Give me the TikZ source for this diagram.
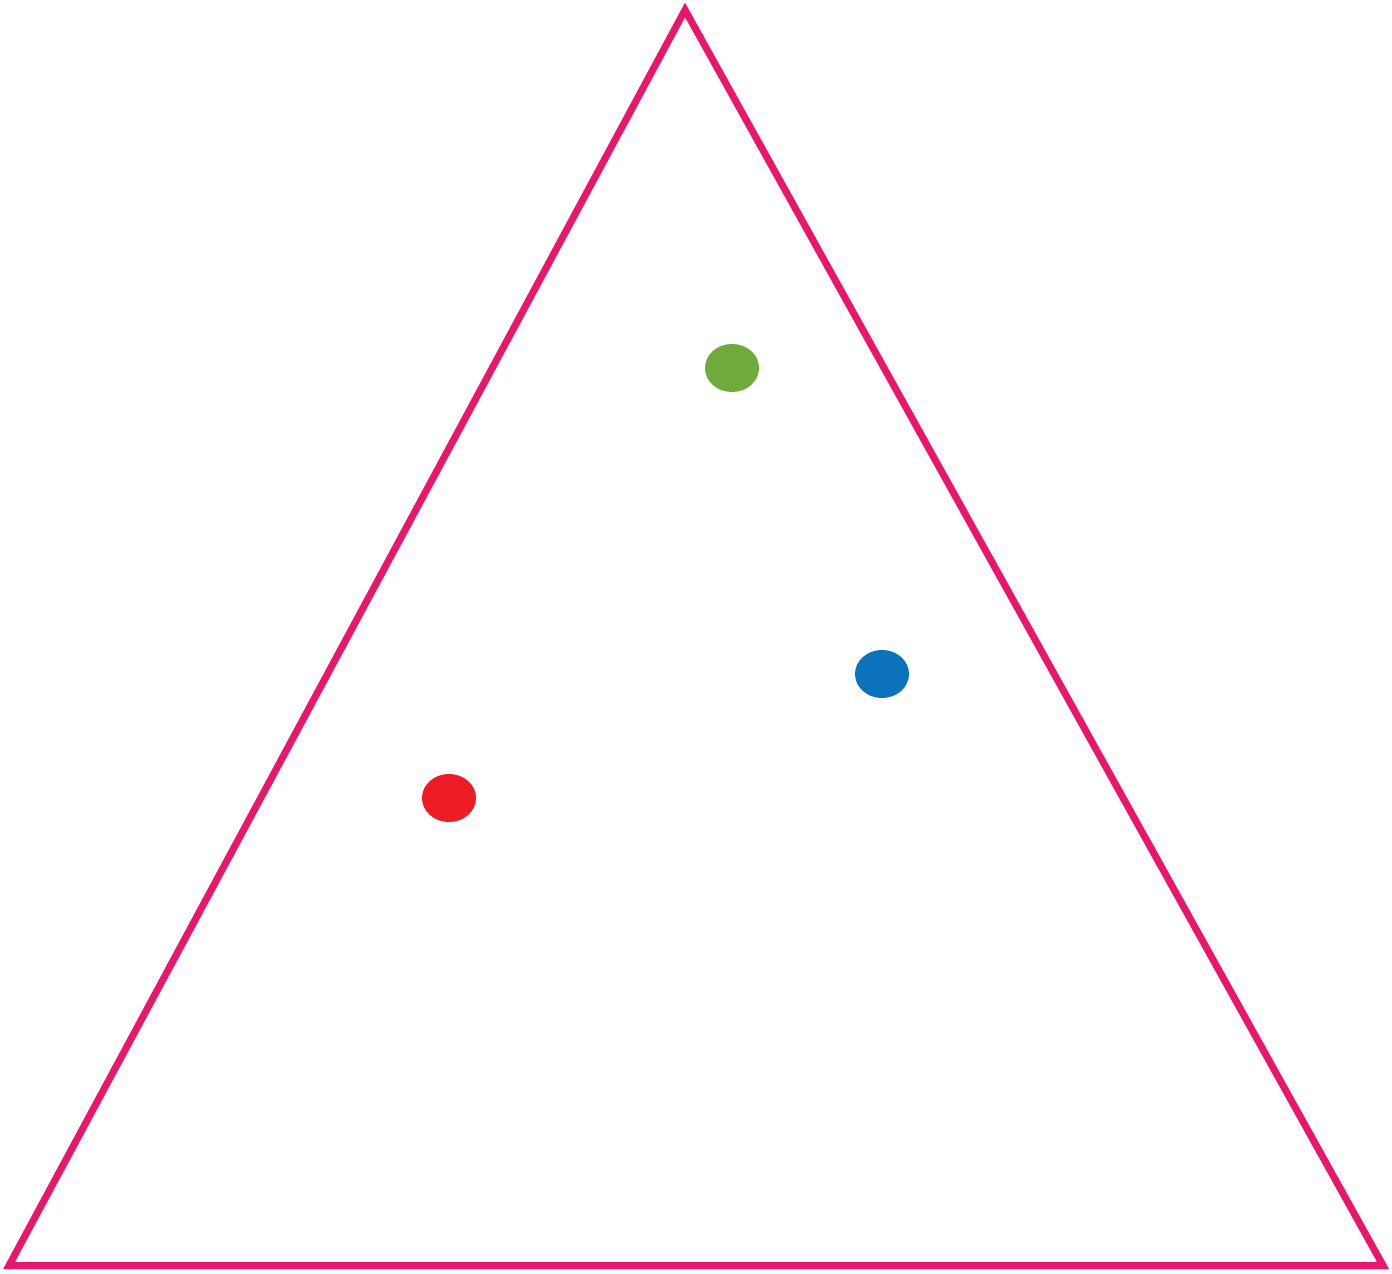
\documentclass[tikz,border=0pt]{standalone}
\usepackage{xcolor}
\usepackage{tikz}
\usetikzlibrary{shapes.geometric}
\definecolor{edgepink}{RGB}{233, 22, 108}
\definecolor{dotgreen}{RGB}{112, 170, 58}
\definecolor{dotblue}{RGB}{12, 114, 188}
\definecolor{dotred}{RGB}{237, 28, 36}

\begin{document}
\begin{tikzpicture}[
        x=0.01cm, y=-0.01cm,
        edge/.style={draw=edgepink, line width=0.07cm, line join=miter},
        dot/.style={ellipse, inner sep=0pt, minimum width=0.54cm, minimum height=0.48cm}
      ]
        \useasboundingbox (0,0) rectangle (1392,1274);
        % corners of the triangle
        \coordinate (apex) at (685,10);
        \coordinate (lowleft) at (9,1265.5);
        \coordinate (lowright) at (1383,1265.5);
        \draw[edge] (apex) -- (lowleft) -- (lowright) -- cycle;
        % points inside
        \node[dot, fill=dotgreen] (green) at (732,368) {};
        \node[dot, fill=dotblue] (blue) at (882,674) {};
        \node[dot, fill=dotred] (red) at (449,798) {};
      \end{tikzpicture}
\end{document}
